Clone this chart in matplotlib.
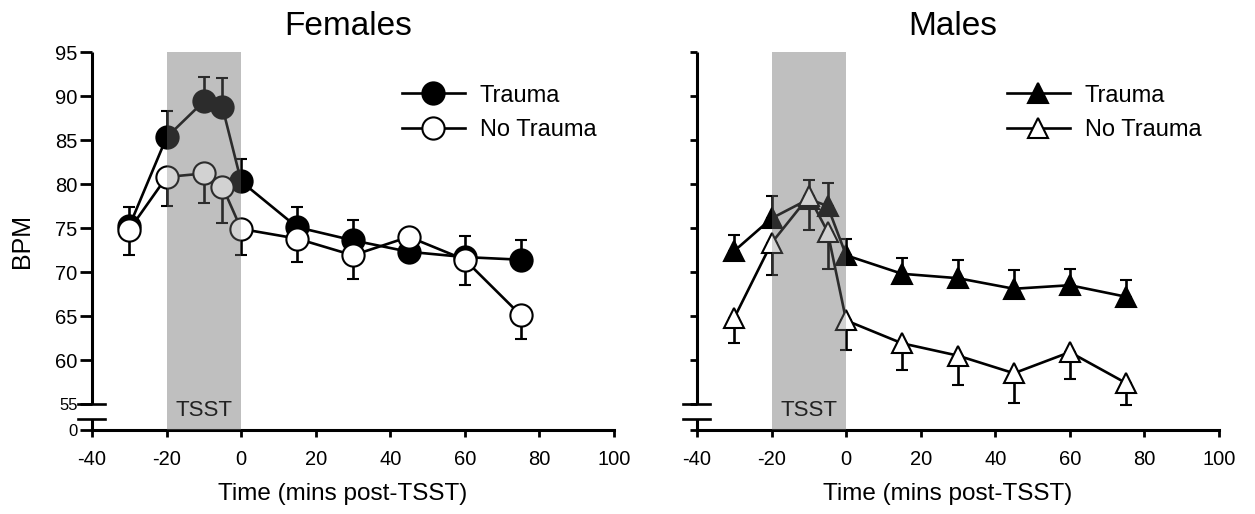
"""
plot.py

Heart rate (BPM) around the TSST for females and males, trauma vs no trauma.
Writes out.png (1255x514).
"""

import matplotlib
matplotlib.use("Agg")
import matplotlib.pyplot as plt
from matplotlib.lines import Line2D
from matplotlib.transforms import blended_transform_factory

plt.rcParams["font.family"] = ["Liberation Sans", "DejaVu Sans"]
plt.rcParams["axes.unicode_minus"] = False

# ---- data ----
TIME = [-30, -20, -10, -5, 0, 15, 30, 45, 60, 75]

FEMALE_TRAUMA = [75.2, 85.3, 89.4, 88.7, 80.3, 75.1, 73.6, 72.3, 71.7, 71.4]
FEMALE_TRAUMA_SE = [2.2, 3.0, 2.8, 3.4, 2.6, 2.3, 2.3, 0.8, 2.4, 2.2]
FEMALE_NOTRAUMA = [74.8, 80.8, 81.2, 79.7, 74.9, 73.8, 71.9, 74.0, 71.4, 65.1]
FEMALE_NOTRAUMA_SE = [2.9, 3.3, 3.3, 4.1, 3.0, 2.7, 2.7, 0.8, 2.9, 2.7]

MALE_TRAUMA = [72.4, 76.1, 78.3, 77.5, 71.9, 69.8, 69.3, 68.1, 68.5, 67.2]
MALE_TRAUMA_SE = [1.8, 2.5, 2.2, 2.6, 1.9, 1.8, 2.1, 2.1, 1.8, 1.9]
MALE_NOTRAUMA = [64.8, 73.3, 78.6, 74.6, 64.5, 61.9, 60.5, 58.5, 60.9, 57.4]
MALE_NOTRAUMA_SE = [2.9, 3.6, 3.8, 4.2, 3.4, 3.0, 3.3, 3.4, 3.1, 2.5]

YTICKS = [55, 60, 65, 70, 75, 80, 85, 90, 95]
XTICKS = [-40, -20, 0, 20, 40, 60, 80, 100]
TSST_WINDOW = (-20, 0)

# broken y axis: the bottom of the axis stands for 0
Y_ZERO = 52.05
Y_BREAK_LOW = 53.3
LW = 1.9


def draw_panel(ax, title, trauma, trauma_se, notrauma, notrauma_se, marker, ms,
               show_labels):
    zeros = [0] * len(TIME)
    common = dict(color="black", lw=LW, elinewidth=LW, capsize=4.5, capthick=LW,
                  marker=marker, ms=ms, mec="black", mew=1.5, zorder=3)
    ax.errorbar(TIME, trauma, yerr=[zeros, trauma_se], mfc="black", **common)
    ax.errorbar(TIME, notrauma, yerr=[notrauma_se, zeros], mfc="white", **common)

    # TSST window: light base + a see-through layer so the points inside look greyed
    ax.axvspan(*TSST_WINDOW, color="#e2e2e2", lw=0, zorder=0)
    ax.axvspan(*TSST_WINDOW, color="#808080", alpha=0.35, lw=0, zorder=5)
    ax.text(sum(TSST_WINDOW) / 2, 54.3, "TSST", ha="center", va="center",
            fontsize=16, color="#222222", zorder=6)

    ax.set_xlim(-40, 100)
    ax.set_ylim(Y_ZERO, 95)
    ax.set_xticks(XTICKS)
    ax.set_yticks([Y_ZERO] + YTICKS)
    for side in ("top", "right", "left"):
        ax.spines[side].set_visible(False)
    ax.spines["bottom"].set_linewidth(2.2)
    ax.tick_params(axis="x", length=5, width=2, pad=9.5, labelsize=14.5)
    ax.tick_params(axis="y", length=9 if show_labels else 5, width=2, pad=1.5,
                   labelsize=14.5)
    if show_labels:
        ax.set_yticklabels(["0"] + [str(v) for v in YTICKS])
        for lab in ax.get_yticklabels()[:2]:
            lab.set_fontsize(12)
    else:
        ax.set_yticklabels([])

    # hand-drawn left spine with the break between 0 and 55
    trans = blended_transform_factory(ax.transAxes, ax.transData)
    for y0, y1 in [(55, 95), (Y_ZERO, Y_BREAK_LOW)]:
        ax.plot([0, 0], [y0, y1], color="black", lw=2.2, transform=trans,
                clip_on=False, solid_capstyle="butt", zorder=7)
    for y in (55, Y_BREAK_LOW):
        ax.plot([-0.027, 0.025], [y, y], color="black", lw=LW, transform=trans,
                clip_on=False, zorder=7)

    ax.text(0.49, 1.045, title, transform=ax.transAxes, ha="center",
            va="baseline", fontsize=24)
    ax.text(0.48, -0.185, "Time (mins post-TSST)", transform=ax.transAxes,
            ha="center", va="baseline", fontsize=17.5)

    handles = [Line2D([], [], color="black", lw=LW, marker=marker, ms=ms,
                      mfc=fc, mec="black", mew=1.5)
               for fc in ("black", "white")]
    ax.legend(handles, ["Trauma", "No Trauma"], loc="upper left",
              bbox_to_anchor=(0.594, 0.914), frameon=False, fontsize=17,
              handlelength=2.65, handletextpad=0.65, labelspacing=0.52,
              borderpad=0, borderaxespad=0)


def main():
    fig = plt.figure(figsize=(12.55, 5.14), dpi=100)
    ax_f = fig.add_axes([0.0733, 0.1634, 0.4159, 0.7354])
    ax_m = fig.add_axes([0.5554, 0.1634, 0.4159, 0.7354])

    draw_panel(ax_f, "Females", FEMALE_TRAUMA, FEMALE_TRAUMA_SE,
               FEMALE_NOTRAUMA, FEMALE_NOTRAUMA_SE, "o", 16, True)
    draw_panel(ax_m, "Males", MALE_TRAUMA, MALE_TRAUMA_SE,
               MALE_NOTRAUMA, MALE_NOTRAUMA_SE, "^", 15, False)
    ax_f.text(-0.134, 0.5, "BPM", transform=ax_f.transAxes, rotation=90,
              ha="center", va="center", fontsize=18)

    fig.savefig("out.png", dpi=100)
    plt.close(fig)


if __name__ == "__main__":
    main()
